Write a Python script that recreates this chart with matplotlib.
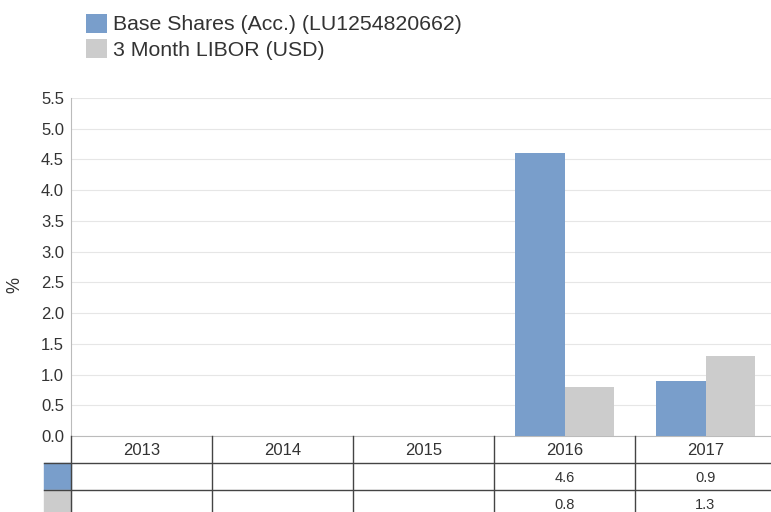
import numpy as np
import matplotlib.pyplot as plt
from matplotlib.patches import Rectangle

plt.rcParams['font.family'] = ['Liberation Sans', 'DejaVu Sans']

# ---- data
years = ['2013', '2014', '2015', '2016', '2017']
fund = [np.nan, np.nan, np.nan, 4.6, 0.9]
libor = [np.nan, np.nan, np.nan, 0.8, 1.3]
fund_name = 'Base Shares (Acc.) (LU1254820662)'
libor_name = '3 Month LIBOR (USD)'
c_fund = '#799ECB'
c_libor = '#CCCCCC'
txt = '#333333'

W, H = 771, 512
fig = plt.figure(figsize=(W / 100, H / 100), dpi=100)

# main bar axes (pixel box 71..776 x 98..436), last column runs off the edge
ax = fig.add_axes([71 / W, 1 - 436 / H, 705 / W, 338 / H])
x = np.arange(len(years))
bw = 0.35
b1 = ax.bar(x - bw / 2, fund, bw, color=c_fund, label=fund_name, zorder=3)
b2 = ax.bar(x + bw / 2, libor, bw, color=c_libor, label=libor_name, zorder=3)
ax.set_xlim(-0.5, len(years) - 0.5)
ax.set_ylim(0, 5.5)
ax.set_yticks(np.arange(0, 5.51, 0.5))
ax.set_yticklabels(['%.1f' % v for v in np.arange(0, 5.51, 0.5)])
ax.set_xticks([])
ax.tick_params(axis='y', length=0, pad=5, labelsize=12, labelcolor=txt)
ax.grid(axis='y', color='#E6E6E6', lw=0.8, zorder=0)
for s in ['top', 'right']:
    ax.spines[s].set_visible(False)
ax.spines['left'].set_color('#BBBBBB')
ax.spines['bottom'].set_color('#BBBBBB')
fig.text(15 / W, 1 - 285 / H, '%', rotation=90, ha='center', va='center',
         fontsize=13, color=txt)

# legend
fig.legend(handles=[b1, b2], loc='upper left', bbox_to_anchor=(77 / W, 1 - 5 / H),
           frameon=False, fontsize=15.3, handlelength=1.0, handleheight=1.0,
           handletextpad=0.3, labelspacing=0.22, labelcolor=txt, borderaxespad=0)

# data table below the plot (rows 27 px tall)
tb = fig.add_axes([71 / W, 0, 705 / W, 76 / H])
tb.set_xlim(-0.5, len(years) - 0.5)
tb.set_ylim(76 / 27, 0)
tb.axis('off')
lc = '#444444'
for i in range(len(years)):
    tb.plot([i - 0.5, i - 0.5], [0, 3], color=lc, lw=1.0, clip_on=False)
sw = 27 / 141
for r in [1, 2]:
    tb.plot([-0.5 - sw, len(years) - 0.5], [r, r], color=lc, lw=1.0, clip_on=False)
for r, c in [(1, c_fund), (2, c_libor)]:
    tb.add_patch(Rectangle((-0.5 - sw, r), sw, 1, color=c, clip_on=False, zorder=0))
for i, y in enumerate(years):
    tb.text(i, 0.55, y, ha='center', va='center', fontsize=12, color=txt)
    if not np.isnan(fund[i]):
        tb.text(i, 1.55, '%.1f' % fund[i], ha='center', va='center', fontsize=10.5, color=txt)
    if not np.isnan(libor[i]):
        tb.text(i, 2.55, '%.1f' % libor[i], ha='center', va='center', fontsize=10.5, color=txt)

fig.savefig('out.png', dpi=100)
